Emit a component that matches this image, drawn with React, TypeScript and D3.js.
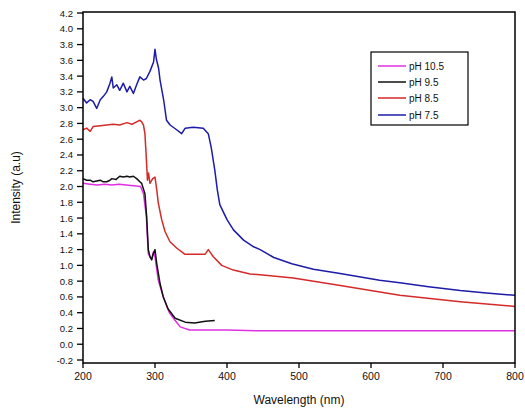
import React from "react";
import * as d3 from "d3";

const W = 525;
const H = 416;

const seriesNames = ["pH 10.5", "pH 9.5", "pH 8.5", "pH 7.5"];
const seriesColors = ["#e030e0", "#111111", "#d42a2a", "#1c1ca8"];

const pinkX = [200, 210, 220, 230, 240, 250, 260, 270, 280, 284, 288, 290.7, 293, 295.4, 297.7, 300, 304.6, 311.5, 320, 328, 335, 348, 400, 450, 800];
const pinkY = [2.04, 2.03, 2.02, 2.03, 2.02, 2.03, 2.02, 2.01, 2.0, 1.91, 1.62, 1.15, 1.11, 1.08, 1.17, 1.11, 0.81, 0.6, 0.4, 0.3, 0.22, 0.18, 0.18, 0.17, 0.17];

const blackX = [200, 205, 210, 214, 219, 224, 228, 233, 237.5, 240, 246, 251, 256, 261, 265, 270, 274.5, 279, 281.5, 286, 288.4, 290.7, 293, 295.4, 297.7, 300, 302.3, 307, 311.5, 318, 328, 342, 355, 370, 383];
const blackY = [2.1, 2.08, 2.08, 2.06, 2.07, 2.08, 2.06, 2.06, 2.08, 2.1, 2.09, 2.13, 2.12, 2.13, 2.12, 2.13, 2.1, 2.06, 2.04, 1.91, 1.62, 1.2, 1.11, 1.07, 1.15, 1.2, 1.03, 0.77, 0.6, 0.45, 0.33, 0.28, 0.27, 0.29, 0.3];

const redX = [200, 205, 210, 214, 224, 233, 242, 251, 261, 268, 274.5, 279, 281.5, 284, 286, 288, 289.5, 291, 293, 296.8, 300, 302.4, 304.6, 309.3, 313.9, 320.8, 330, 341.7, 369.4, 374, 381, 392.6, 408.8, 432, 446, 492, 553, 640, 724, 800];
const redY = [2.72, 2.74, 2.7, 2.76, 2.77, 2.78, 2.79, 2.78, 2.81, 2.79, 2.82, 2.84, 2.82, 2.78, 2.67, 2.35, 2.08, 2.17, 2.04, 2.1, 2.12, 1.96, 1.79, 1.58, 1.43, 1.3, 1.22, 1.14, 1.14, 1.2, 1.11, 1.0, 0.94, 0.89, 0.88, 0.84, 0.75, 0.62, 0.54, 0.48];

const blueX = [200, 205, 210, 214, 219, 224, 228, 233, 237.5, 240, 242, 247, 251, 256, 261, 265, 270, 274.5, 279, 284, 288, 293, 298, 300, 302, 305, 307, 312, 316, 321, 330, 337, 342, 353, 367, 374, 378, 383, 386.5, 390, 400, 409, 423, 436, 446, 465, 490, 520, 555, 612, 640, 680, 724, 760, 800];
const blueY = [3.12, 3.06, 3.1, 3.08, 2.99, 3.1, 3.14, 3.2, 3.31, 3.39, 3.25, 3.29, 3.22, 3.31, 3.2, 3.27, 3.18, 3.29, 3.39, 3.35, 3.37, 3.46, 3.58, 3.74, 3.61, 3.5, 3.35, 3.1, 2.84, 2.78, 2.72, 2.67, 2.74, 2.75, 2.74, 2.67, 2.5, 2.21, 1.96, 1.77, 1.58, 1.45, 1.32, 1.24, 1.2, 1.1, 1.02, 0.95, 0.9, 0.81, 0.78, 0.73, 0.68, 0.65, 0.62];

const xTicks = [200, 300, 400, 500, 600, 700, 800];
const yTicks = [-0.2, 0.0, 0.2, 0.4, 0.6, 0.8, 1.0, 1.2, 1.4, 1.6, 1.8, 2.0, 2.2, 2.4, 2.6, 2.8, 3.0, 3.2, 3.4, 3.6, 3.8, 4.0, 4.2];

const xTitle = "Wavelength (nm)";
const yTitle = "Intensity (a.u)";

export default function App() {
  const left = 83, right = 515, top = 12, bottom = 363;
  const x = d3.scaleLinear().domain([200, 800]).range([left, right]);
  const y = d3.scaleLinear().domain([-0.238, 4.213]).range([bottom, top]);

  const series = [
    { xs: pinkX, ys: pinkY },
    { xs: blackX, ys: blackY },
    { xs: redX, ys: redY },
    { xs: blueX, ys: blueY },
  ];
  const line = d3
    .line<[number, number]>()
    .x((d) => x(d[0]))
    .y((d) => y(d[1]));

  const font = "Arial, 'Liberation Sans', sans-serif";

  const legX = 371, legY = 52, legW = 97, legH = 73;
  const rowY = [66, 82, 98, 115];

  return (
    <svg
      width={W}
      height={H}
      style={{ position: "absolute", left: 0, top: 0, background: "#fff" }}
      fontFamily={font}
    >
      <rect x={0} y={0} width={W} height={H} fill="#fff" />
      {series.map((s, i) => (
        <path
          key={i}
          d={line(s.xs.map((v, j) => [v, s.ys[j]] as [number, number])) || ""}
          fill="none"
          stroke={seriesColors[i]}
          strokeWidth={1.5}
          strokeLinejoin="round"
        />
      ))}
      {/* frame */}
      <rect x={left} y={top} width={right - left} height={bottom - top} fill="none" stroke="#000" strokeWidth={1.5} />
      {/* x ticks */}
      {xTicks.map((t) => (
        <g key={t}>
          <line x1={x(t)} x2={x(t)} y1={bottom} y2={bottom + 5} stroke="#000" strokeWidth={1.3} />
          <text x={x(t)} y={bottom + 17} textAnchor="middle" fontSize={10.5} fill="#111">
            {t}
          </text>
        </g>
      ))}
      {/* y ticks */}
      {yTicks.map((t) => (
        <g key={t}>
          <line x1={left - 6} x2={left} y1={y(t)} y2={y(t)} stroke="#000" strokeWidth={1.3} />
          <text x={left - 10} y={y(t) + 3.5} textAnchor="end" fontSize={9.5} fill="#111">
            {t.toFixed(1)}
          </text>
        </g>
      ))}
      <text x={(left + right) / 2} y={404} textAnchor="middle" fontSize={12} fill="#111">
        {xTitle}
      </text>
      <text
        transform={`translate(20, ${(top + bottom) / 2}) rotate(-90)`}
        textAnchor="middle"
        fontSize={12}
        fill="#111"
      >
        {yTitle}
      </text>
      {/* legend */}
      <rect x={legX} y={legY} width={legW} height={legH} fill="#fff" stroke="#000" strokeWidth={1.2} />
      {seriesNames.map((n, i) => (
        <g key={n}>
          <line x1={legX + 7} x2={legX + 35} y1={rowY[i]} y2={rowY[i]} stroke={seriesColors[i]} strokeWidth={1.5} />
          <text x={legX + 38} y={rowY[i] + 3.5} fontSize={10} fill="#111">
            {n}
          </text>
        </g>
      ))}
    </svg>
  );
}
